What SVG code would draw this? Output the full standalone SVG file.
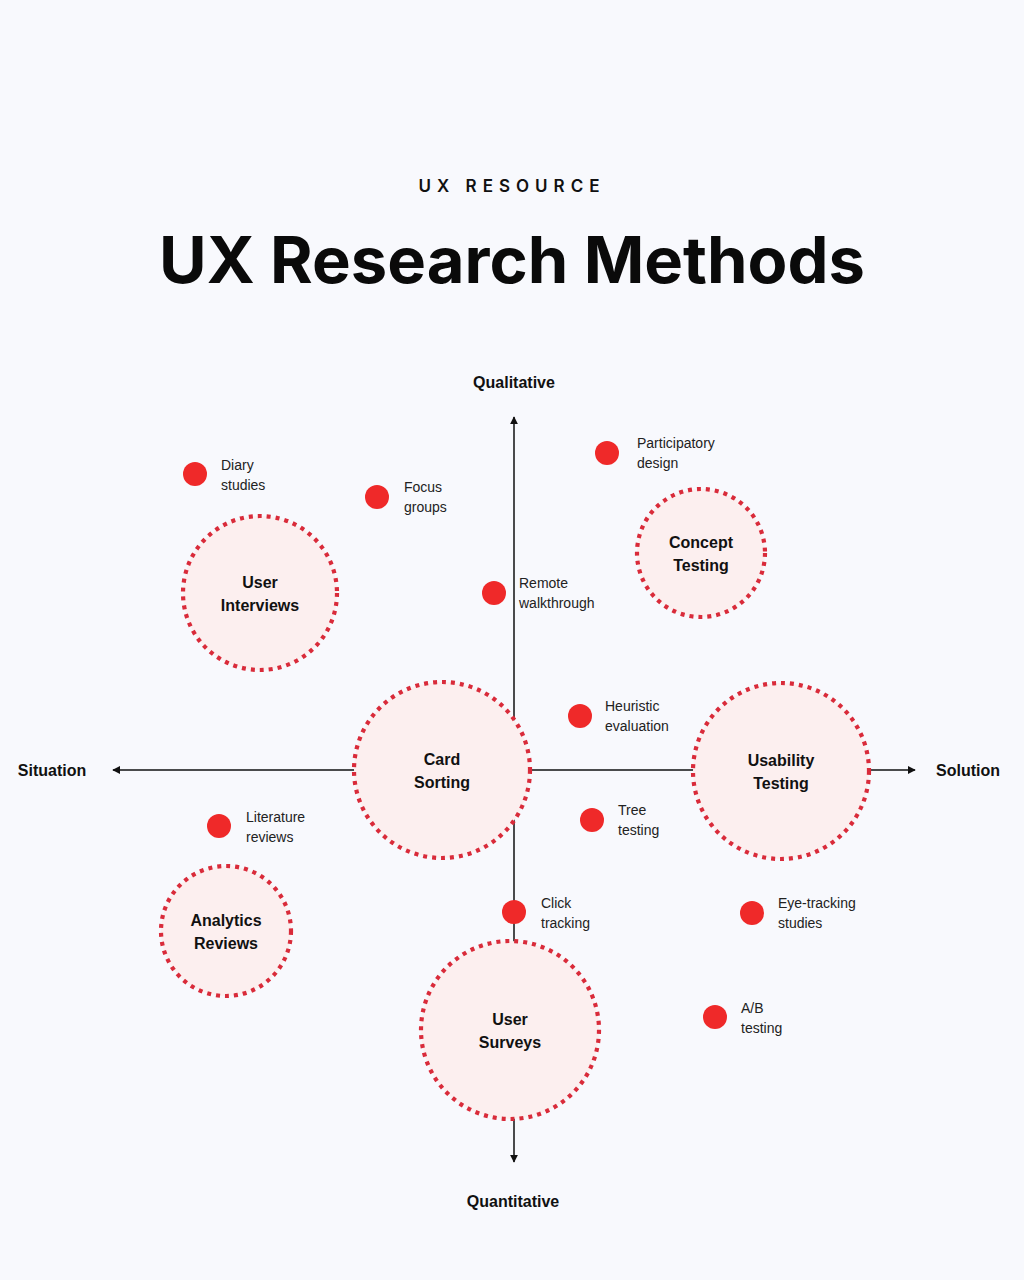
<svg xmlns="http://www.w3.org/2000/svg" width="1024" height="1280" viewBox="0 0 1024 1280">
<defs>
<style>
.bg{fill:#f8f9fd}
.ring{fill:#fcefef;stroke:#d92b3a;stroke-width:4.2;stroke-dasharray:4 5}
.dot{fill:#ef2929}
.axis{stroke:#111;stroke-width:1.5;fill:none}
.lbl{font-family:"Liberation Sans",Arial,sans-serif;font-weight:700;font-size:16px;fill:#111;text-anchor:middle}
.ax{font-family:"Liberation Sans",Arial,sans-serif;font-weight:700;font-size:16px;fill:#111;text-anchor:middle}
.sm{font-family:"Liberation Sans",Arial,sans-serif;font-size:14px;fill:#222}
</style>
<marker id="arr" viewBox="0 0 10 10" refX="9" refY="5" markerWidth="8" markerHeight="8" markerUnits="userSpaceOnUse" orient="auto"><path d="M0,0 L10,5 L0,10 z" fill="#111"/></marker>
</defs>
<rect class="bg" x="0" y="0" width="1024" height="1280"/>
<text x="512" y="192" font-family="Inter,'Liberation Sans',Arial,sans-serif" font-weight="600" font-size="17" letter-spacing="6" text-anchor="middle" fill="#111">UX RESOURCE</text>
<text x="512" y="283" font-family="Inter,'Liberation Sans',Arial,sans-serif" font-weight="700" font-size="64" text-anchor="middle" fill="#0a0a0a" textLength="706" lengthAdjust="spacingAndGlyphs">UX Research Methods</text>
<g id="connectors">
<line class="axis" x1="514" y1="770" x2="514" y2="417" marker-end="url(#arr)"/>
<line class="axis" x1="514" y1="770" x2="514" y2="1162" marker-end="url(#arr)"/>
<line class="axis" x1="514" y1="770" x2="113" y2="770" marker-end="url(#arr)"/>
<line class="axis" x1="514" y1="770" x2="915" y2="770" marker-end="url(#arr)"/>
</g>
<g id="axis-labels">
<text class="ax" x="514" y="388">Qualitative</text>
<text class="ax" x="513" y="1207">Quantitative</text>
<text class="ax" x="52" y="776">Situation</text>
<text class="ax" x="968" y="776">Solution</text>
</g>
<g id="user-interviews"><circle class="ring" cx="260" cy="593" r="77"/><text class="lbl" x="260" y="588">User</text><text class="lbl" x="260" y="611">Interviews</text></g>
<g id="concept-testing"><circle class="ring" cx="701" cy="553" r="64"/><text class="lbl" x="701" y="548">Concept</text><text class="lbl" x="701" y="571">Testing</text></g>
<g id="card-sorting"><circle class="ring" cx="442" cy="770" r="88"/><text class="lbl" x="442" y="765">Card</text><text class="lbl" x="442" y="788">Sorting</text></g>
<g id="usability-testing"><circle class="ring" cx="781" cy="771" r="88"/><text class="lbl" x="781" y="766">Usability</text><text class="lbl" x="781" y="789">Testing</text></g>
<g id="analytics-reviews"><circle class="ring" cx="226" cy="931" r="65"/><text class="lbl" x="226" y="926">Analytics</text><text class="lbl" x="226" y="949">Reviews</text></g>
<g id="user-surveys"><circle class="ring" cx="510" cy="1030" r="89"/><text class="lbl" x="510" y="1025">User</text><text class="lbl" x="510" y="1048">Surveys</text></g>
<g id="diary-studies"><circle class="dot" cx="195" cy="474" r="12"/><text class="sm" x="221" y="470">Diary</text><text class="sm" x="221" y="490">studies</text></g>
<g id="focus-groups"><circle class="dot" cx="377" cy="497" r="12"/><text class="sm" x="404" y="492">Focus</text><text class="sm" x="404" y="512">groups</text></g>
<g id="participatory-design"><circle class="dot" cx="607" cy="453" r="12"/><text class="sm" x="637" y="448">Participatory</text><text class="sm" x="637" y="468">design</text></g>
<g id="remote-walkthrough"><circle class="dot" cx="494" cy="593" r="12"/><text class="sm" x="519" y="588">Remote</text><text class="sm" x="519" y="608">walkthrough</text></g>
<g id="heuristic-evaluation"><circle class="dot" cx="580" cy="716" r="12"/><text class="sm" x="605" y="711">Heuristic</text><text class="sm" x="605" y="731">evaluation</text></g>
<g id="tree-testing"><circle class="dot" cx="592" cy="820" r="12"/><text class="sm" x="618" y="815">Tree</text><text class="sm" x="618" y="835">testing</text></g>
<g id="literature-reviews"><circle class="dot" cx="219" cy="826" r="12"/><text class="sm" x="246" y="822">Literature</text><text class="sm" x="246" y="842">reviews</text></g>
<g id="click-tracking"><circle class="dot" cx="514" cy="912" r="12"/><text class="sm" x="541" y="908">Click</text><text class="sm" x="541" y="928">tracking</text></g>
<g id="eye-tracking-studies"><circle class="dot" cx="752" cy="913" r="12"/><text class="sm" x="778" y="908">Eye-tracking</text><text class="sm" x="778" y="928">studies</text></g>
<g id="ab-testing"><circle class="dot" cx="715" cy="1017" r="12"/><text class="sm" x="741" y="1013">A/B</text><text class="sm" x="741" y="1033">testing</text></g>
</svg>
